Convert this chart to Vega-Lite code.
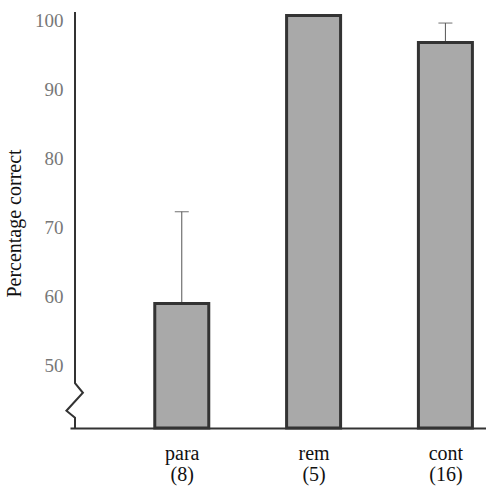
{
  "$schema": "https://vega.github.io/schema/vega-lite/v6.json",
  "autosize": {"type": "none"},
  "width": 416,
  "height": 416,
  "padding": {"left": 70, "top": 12, "right": 0, "bottom": 63},
  "background": "white",
  "config": {"view": {"stroke": null}, "font": "Liberation Serif"},
  "datasets": {
    "bars": [
      {"pos": 1, "group": "para", "n": "(8)", "value": 59.0, "upper": 72.3},
      {"pos": 2, "group": "rem", "n": "(5)", "value": 100.7, "upper": null},
      {"pos": 3, "group": "cont", "n": "(16)", "value": 96.8, "upper": 99.6}
    ],
    "axisline": [
      {"x": 0.19, "y": 101.2, "order": 1},
      {"x": 0.19, "y": 47.5, "order": 2},
      {"x": 0.25, "y": 46.1, "order": 3},
      {"x": 0.125, "y": 43.5, "order": 4},
      {"x": 0.19, "y": 42.5, "order": 5},
      {"x": 0.19, "y": 41.0, "order": 6}
    ]
  },
  "layer": [
    {
      "data": {"name": "axisline"},
      "mark": {"type": "line", "color": "#333", "strokeWidth": 2, "clip": false},
      "encoding": {
        "x": {"field": "x", "type": "quantitative"},
        "y": {"field": "y", "type": "quantitative"},
        "order": {"field": "order"}
      }
    },
    {
      "data": {"name": "bars"},
      "transform": [{"filter": "datum.upper != null"}],
      "mark": {"type": "rule", "color": "#555", "strokeWidth": 1},
      "encoding": {
        "x": {"field": "pos", "type": "quantitative"},
        "y": {"field": "value", "type": "quantitative"},
        "y2": {"field": "upper"}
      }
    },
    {
      "data": {"name": "bars"},
      "transform": [{"filter": "datum.upper != null"}],
      "mark": {"type": "tick", "orient": "horizontal", "color": "#555", "size": 14, "thickness": 1.2},
      "encoding": {
        "x": {"field": "pos", "type": "quantitative"},
        "y": {"field": "upper", "type": "quantitative"}
      }
    },
    {
      "data": {"name": "bars"},
      "mark": {"type": "bar", "size": 54, "fill": "#a9a9a9", "stroke": "#333", "strokeWidth": 3},
      "encoding": {
        "x": {
          "field": "pos",
          "type": "quantitative",
          "scale": {"domain": [0.19, 3.27], "nice": false, "zero": false},
          "axis": {
            "values": [1, 2, 3],
            "labelExpr": "datum.value == 1 ? ['para', '(8)'] : datum.value == 2 ? ['rem', '(5)'] : ['cont', '(16)']",
            "title": null,
            "ticks": false,
            "grid": false,
            "domain": true,
            "domainColor": "#333",
            "domainWidth": 2,
            "labelFont": "Liberation Serif",
            "labelFontSize": 20,
            "labelColor": "#111",
            "labelPadding": 15,
            "labelLineHeight": 21
          }
        },
        "y": {
          "field": "value",
          "type": "quantitative",
          "scale": {"domain": [41, 101.2], "nice": false, "zero": false},
          "axis": {
            "values": [50, 60, 70, 80, 90, 100],
            "title": "Percentage correct",
            "titleFont": "Liberation Serif",
            "titleFontSize": 20,
            "titleFontWeight": "normal",
            "titleColor": "#111",
            "titlePadding": 10,
            "titleY": 211,
            "ticks": false,
            "grid": false,
            "domain": false,
            "labelFont": "Liberation Serif",
            "labelFontSize": 19,
            "labelColor": "#777",
            "labelPadding": 7
          }
        },
        "y2": {"datum": 41}
      }
    }
  ]
}
